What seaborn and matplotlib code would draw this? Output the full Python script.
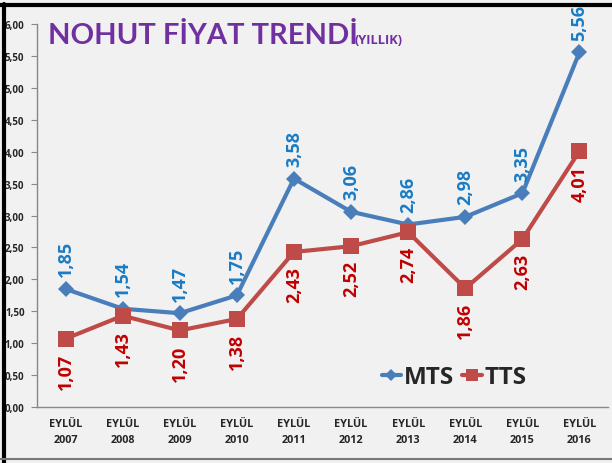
import pandas as pd
import seaborn as sns
import matplotlib.pyplot as plt
from matplotlib.lines import Line2D

# veriler
years = ['2007', '2008', '2009', '2010', '2011', '2012', '2013', '2014', '2015', '2016']
mts = [1.85, 1.54, 1.47, 1.75, 3.58, 3.06, 2.86, 2.98, 3.35, 5.56]
tts = [1.07, 1.43, 1.20, 1.38, 2.43, 2.52, 2.74, 1.86, 2.63, 4.01]
tick_labels = ['EYLÜL\n' + y for y in years]

sns.set_style('white')
plt.rcParams['font.family'] = ['Open Sans', 'DejaVu Sans']

df = pd.DataFrame({
    'yil': list(range(len(years))) * 2,
    'fiyat': mts + tts,
    'seri': ['MTS'] * len(years) + ['TTS'] * len(years),
})

fig = plt.figure(figsize=(6.12, 4.64), dpi=100)
fig.patch.set_facecolor('#f1f1f1')
ax = fig.add_axes([0.0605, 0.1207, 0.933, 0.825])
ax.set_facecolor('#f1f1f1')

renk = {'MTS': '#4a7ebb', 'TTS': '#be4b48'}
sns.lineplot(data=df, x='yil', y='fiyat', hue='seri', style='seri',
             palette=renk, markers={'MTS': 'D', 'TTS': 's'}, dashes=False,
             linewidth=3, markersize=9, markeredgewidth=0, ax=ax, legend=False)
# kare işaretler biraz daha büyük
for ln in ax.lines:
    if ln.get_marker() == 's':
        ln.set_markersize(11)
    else:
        ln.set_markersize(8)

ax.set_xlim(-0.5, len(years) - 0.5)
ax.set_ylim(0, 6)
ax.set_yticks([i * 0.5 for i in range(13)])
ax.set_yticklabels([f'{i * 0.5:.2f}'.replace('.', ',') for i in range(13)],
                   fontsize=7, fontweight='bold')
ax.set_xticks(range(len(years)))
ax.set_xticklabels(tick_labels, fontsize=7.8, fontweight='bold', linespacing=1.6)
ax.set_xticks([i - 0.5 for i in range(len(years) + 1)], minor=True)
ax.tick_params(axis='x', which='major', length=0, pad=8)
ax.tick_params(axis='x', which='minor', length=4, color='#888888', direction='out')
ax.tick_params(axis='y', length=4, color='#888888', direction='out', pad=5, left=True)
ax.set_xlabel('')
ax.set_ylabel('')
for s in ['top', 'right']:
    ax.spines[s].set_visible(False)
for s in ['left', 'bottom']:
    ax.spines[s].set_color('#888888')
    ax.spines[s].set_linewidth(1)

# veri etiketleri
for i, v in enumerate(mts):
    ax.annotate(f'{v:.2f}'.replace('.', ','), (i, v), xytext=(0, 9),
                textcoords='offset points', rotation=90, ha='center', va='bottom',
                color='#1a7cc4', fontsize=13, fontweight='bold')
for i, v in enumerate(tts):
    ax.annotate(f'{v:.2f}'.replace('.', ','), (i, v), xytext=(0, -10),
                textcoords='offset points', rotation=90, ha='center', va='top',
                color='#c00000', fontsize=13, fontweight='bold')

handles = [Line2D([], [], color=renk['MTS'], marker='D', lw=3, ms=6, mew=0),
           Line2D([], [], color=renk['TTS'], marker='s', lw=3, ms=9, mew=0)]
ax.legend(handles, ['MTS', 'TTS'], loc='center left', bbox_to_anchor=(0.565, 0.078),
          ncol=2, frameon=False, handlelength=0.8, handletextpad=0.1,
          columnspacing=0.35, prop={'size': 17.5, 'weight': 'bold'})

fig.text(0.078, 0.905, 'NOHUT FİYAT TRENDİ', color='#7030a0', fontsize=21,
         fontweight='bold', ha='left', va='baseline', family=['Lato', 'DejaVu Sans'])
fig.text(0.579, 0.905, '(YILLIK)', color='#7030a0', fontsize=9.3,
         fontweight='bold', ha='left', va='baseline')

# çerçeve
fig.add_artist(Line2D([0.0065, 0.0065], [0, 0.99], color='black', lw=3))
fig.add_artist(Line2D([0.0, 1.0], [0.987, 0.987], color='black', lw=3))
fig.add_artist(Line2D([0.0, 1.0], [0.009, 0.009], color='#777777', lw=1.5))

fig.savefig('out.png', dpi=100, facecolor=fig.get_facecolor())
